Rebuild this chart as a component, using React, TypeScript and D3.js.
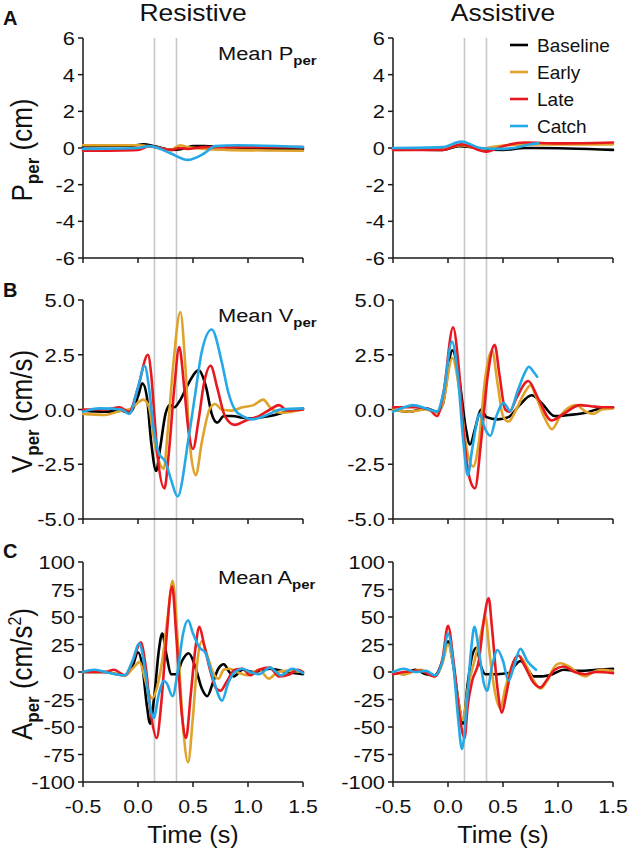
import React from 'react';
import * as d3 from 'd3';

type Pt = [number, number];

// ---------- categories ----------
const conditions = ['Baseline', 'Early', 'Late', 'Catch'];
const conditionColors = ['#000000', '#DFA22B', '#E8191E', '#25A9E6'];
const columnTitles = ['Resistive', 'Assistive'];
const timeTicks = [-0.5, 0, 0.5, 1.0, 1.5];
const markerTimes = [0.15, 0.35];
const pTicks = [6, 4, 2, 0, -2, -4, -6];
const vTicks = [5, 2.5, 0, -2.5, -5];
const aTicks = [100, 75, 50, 25, 0, -25, -50, -75, -100];

// ---------- A: position (cm) ----------
const resP_base: Pt[] = [[-0.5, 0.1], [-0.05, 0.12], [0.05, 0.2], [0.15, 0.1], [0.3, -0.1], [0.4, -0.05], [0.5, 0.1], [0.6, 0.1], [0.8, 0.05], [1.0, 0.0], [1.5, -0.05]];
const resP_early: Pt[] = [[-0.5, 0.15], [0.0, 0.15], [0.15, 0.05], [0.3, -0.1], [0.38, 0.15], [0.45, 0.05], [0.6, -0.05], [0.8, -0.1], [1.5, -0.15]];
const resP_late: Pt[] = [[-0.5, -0.15], [0.0, -0.1], [0.1, 0.1], [0.15, 0.05], [0.3, -0.1], [0.38, 0.0], [0.45, -0.05], [0.6, 0.05], [0.8, 0.05], [1.5, 0.05]];
const resP_catch: Pt[] = [[-0.5, -0.05], [0.0, 0.0], [0.1, 0.1], [0.15, 0.05], [0.3, -0.3], [0.45, -0.65], [0.6, -0.3], [0.7, 0.1], [0.9, 0.15], [1.5, 0.05]];

const assP_base: Pt[] = [[-0.5, -0.05], [-0.05, -0.1], [0.1, 0.1], [0.2, 0.05], [0.3, -0.05], [0.5, -0.1], [0.7, 0.0], [0.8, 0.0], [1.5, -0.1]];
const assP_early: Pt[] = [[-0.5, -0.1], [-0.05, -0.05], [0.12, 0.15], [0.3, -0.05], [0.4, 0.05], [0.7, 0.2], [1.0, 0.2], [1.5, 0.2]];
const assP_late: Pt[] = [[-0.5, -0.1], [-0.05, -0.1], [0.12, 0.2], [0.35, -0.2], [0.5, 0.1], [0.7, 0.3], [1.0, 0.25], [1.5, 0.3]];
const assP_catch: Pt[] = [[-0.5, 0.0], [-0.05, 0.05], [0.12, 0.35], [0.3, 0.0], [0.45, -0.05], [0.6, 0.0], [0.75, 0.2], [0.82, 0.25]];

// ---------- B: velocity (cm/s) ----------
const resV_base: Pt[] = [[-0.5, -0.05], [-0.3, -0.1], [-0.15, -0.05], [-0.08, -0.15], [0.0, 0.6], [0.04, 1.2], [0.08, 0.6], [0.12, -1.5], [0.165, -2.8], [0.2, -1.8], [0.25, -0.2], [0.29, 0.2], [0.33, 0.1], [0.38, 0.4], [0.46, 1.2], [0.55, 1.8], [0.62, 1.0], [0.67, -0.2], [0.72, -0.6], [0.78, -0.3], [0.85, -0.3], [1.0, -0.4], [1.2, -0.3], [1.35, -0.1], [1.5, 0.05]];
const resV_early: Pt[] = [[-0.5, -0.2], [-0.3, -0.25], [-0.15, -0.05], [-0.08, 0.0], [0.05, 0.45], [0.1, 0.1], [0.15, -1.5], [0.2, -2.5], [0.235, -2.7], [0.27, -1.0], [0.32, 2.0], [0.385, 4.45], [0.43, 2.0], [0.47, -1.5], [0.525, -3.0], [0.58, -1.5], [0.65, 0.0], [0.7, 0.25], [0.76, 0.0], [0.85, -0.05], [0.95, 0.1], [1.05, 0.2], [1.14, 0.45], [1.2, 0.1], [1.3, -0.15], [1.4, -0.1], [1.5, 0.0]];
const resV_late: Pt[] = [[-0.5, 0.0], [-0.3, 0.0], [-0.17, 0.1], [-0.08, -0.1], [0.0, 1.0], [0.09, 2.5], [0.12, 1.6], [0.145, 0.0], [0.18, -2.2], [0.24, -3.6], [0.28, -2.0], [0.33, 1.0], [0.375, 2.85], [0.42, 1.0], [0.46, -1.0], [0.5, -1.8], [0.55, -0.5], [0.6, 1.2], [0.66, 2.0], [0.72, 1.0], [0.79, -0.3], [0.88, -0.7], [0.98, -0.5], [1.1, -0.3], [1.2, 0.0], [1.28, 0.2], [1.36, -0.05], [1.5, 0.0]];
const resV_catch: Pt[] = [[-0.5, -0.1], [-0.35, 0.05], [-0.15, 0.0], [-0.08, -0.2], [0.0, 1.0], [0.06, 2.0], [0.1, 1.0], [0.14, -0.8], [0.19, -2.0], [0.25, -2.4], [0.3, -3.2], [0.36, -3.97], [0.46, -1.3], [0.52, 0.7], [0.58, 2.65], [0.67, 3.65], [0.76, 2.2], [0.82, 0.8], [0.88, 0.0], [0.95, -0.3], [1.04, -0.45], [1.15, -0.3], [1.3, 0.0], [1.5, 0.05]];

const assV_base: Pt[] = [[-0.5, 0.0], [-0.35, -0.1], [-0.2, 0.05], [-0.1, -0.1], [-0.05, 0.2], [0.04, 2.7], [0.1, 1.5], [0.16, -0.8], [0.2, -1.6], [0.25, -0.8], [0.3, 0.0], [0.35, -0.35], [0.45, -0.45], [0.55, -0.35], [0.65, 0.2], [0.76, 0.65], [0.85, 0.3], [0.97, -0.3], [1.1, -0.25], [1.25, -0.15], [1.35, 0.0], [1.5, 0.1]];
const assV_early: Pt[] = [[-0.5, 0.0], [-0.35, -0.1], [-0.2, 0.0], [-0.1, -0.15], [-0.05, 0.2], [0.04, 2.35], [0.1, 1.0], [0.17, -1.8], [0.23, -2.6], [0.28, -1.5], [0.34, 1.5], [0.4, 2.7], [0.45, 1.2], [0.5, -0.3], [0.55, -0.55], [0.62, 0.0], [0.7, 0.8], [0.75, 1.1], [0.8, 0.6], [0.88, -0.4], [0.945, -0.9], [1.02, -0.3], [1.1, 0.1], [1.17, 0.2], [1.25, -0.1], [1.32, -0.2], [1.4, 0.0], [1.5, 0.05]];
const assV_late: Pt[] = [[-0.5, 0.1], [-0.3, 0.1], [-0.17, 0.0], [-0.1, -0.3], [-0.04, 0.8], [0.046, 3.75], [0.1, 1.8], [0.15, -1.5], [0.2, -3.2], [0.245, -3.6], [0.3, -1.5], [0.36, 1.5], [0.424, 2.95], [0.47, 1.5], [0.52, 0.0], [0.56, -0.1], [0.62, 0.5], [0.73, 1.3], [0.82, 0.5], [0.94, -0.5], [1.05, -0.2], [1.2, 0.2], [1.3, 0.15], [1.4, 0.1], [1.5, 0.1]];
const assV_catch: Pt[] = [[-0.5, -0.1], [-0.4, 0.1], [-0.32, 0.2], [-0.2, 0.05], [-0.1, -0.1], [-0.04, 0.8], [0.036, 3.1], [0.09, 1.5], [0.14, -1.5], [0.18, -3.0], [0.22, -1.8], [0.29, -0.2], [0.33, -0.8], [0.385, -1.2], [0.44, -0.3], [0.506, 0.3], [0.565, -0.07], [0.63, 0.8], [0.7, 1.7], [0.735, 1.95], [0.78, 1.7], [0.81, 1.5]];

// ---------- C: acceleration (cm/s^2) ----------
const resA_base: Pt[] = [[-0.5, 0], [-0.3, 0], [-0.12, -3], [-0.05, 5], [0.0, 18], [0.04, 5], [0.08, -30], [0.11, -47], [0.15, -20], [0.19, 20], [0.22, 35], [0.26, 15], [0.3, -2], [0.35, -2], [0.4, 10], [0.46, 17], [0.52, 5], [0.58, -15], [0.63, -22], [0.68, -10], [0.73, 3], [0.78, 7], [0.83, 0], [0.87, -4], [0.95, 2], [1.05, 0], [1.2, 3], [1.35, 0], [1.5, -2]];
const resA_early: Pt[] = [[-0.5, 0], [-0.3, 0], [-0.12, -3], [-0.05, 3], [0.015, 9], [0.06, -5], [0.1, -20], [0.13, -24], [0.17, -15], [0.22, 10], [0.27, 50], [0.315, 83], [0.36, 30], [0.41, -50], [0.455, -82], [0.5, -40], [0.54, 10], [0.58, 28], [0.63, 15], [0.68, 0], [0.73, -6], [0.78, 2], [0.83, 3], [0.9, 0], [1.0, -3], [1.1, 2], [1.19, -6], [1.27, 0], [1.35, 1], [1.5, 0]];
const resA_late: Pt[] = [[-0.5, 0], [-0.3, 0], [-0.22, 2], [-0.12, -3], [-0.04, 12], [0.025, 27], [0.07, 5], [0.12, -40], [0.17, -60], [0.21, -30], [0.25, 20], [0.31, 78], [0.35, 30], [0.4, -40], [0.436, -60], [0.48, -20], [0.52, 20], [0.558, 41], [0.6, 25], [0.66, 0], [0.71, -15], [0.75, -17], [0.8, -10], [0.88, 2], [0.95, 3], [1.02, -3], [1.1, 2], [1.2, 4], [1.28, -4], [1.38, -2], [1.45, 2], [1.5, 0]];
const resA_catch: Pt[] = [[-0.5, 0], [-0.4, 2], [-0.3, 0], [-0.12, -3], [-0.05, 10], [0.01, 26], [0.06, 5], [0.1, -25], [0.142, -42], [0.19, -20], [0.233, -8], [0.26, -10], [0.315, -22], [0.36, 0], [0.41, 35], [0.455, 47], [0.5, 35], [0.56, 22], [0.61, 18], [0.68, -5], [0.764, -26], [0.82, -10], [0.88, 0], [0.95, 3], [1.02, 0], [1.1, -2], [1.2, 4], [1.3, -3], [1.4, 3], [1.5, -1]];

const assA_base: Pt[] = [[-0.5, 0], [-0.4, -2], [-0.3, 2], [-0.2, -2], [-0.12, -3], [-0.05, 10], [0.0, 28], [0.05, 5], [0.1, -30], [0.136, -47], [0.18, -10], [0.22, 15], [0.258, 22], [0.3, 5], [0.34, -2], [0.45, -2], [0.55, -1], [0.6, 5], [0.66, 10], [0.72, 3], [0.78, -4], [0.85, -4], [0.95, -2], [1.05, 2], [1.2, 1], [1.35, 2], [1.5, 3]];
const assA_early: Pt[] = [[-0.5, 0], [-0.4, -2], [-0.25, 2], [-0.12, -4], [-0.05, 8], [0.0, 25], [0.05, 5], [0.1, -30], [0.136, -44], [0.18, -15], [0.24, 10], [0.3, 35], [0.34, 50], [0.38, 15], [0.43, -20], [0.476, -33], [0.52, -15], [0.58, 5], [0.64, 15], [0.7, 8], [0.78, -8], [0.84, -15], [0.9, -8], [0.97, 5], [1.02, 8], [1.1, 5], [1.18, -1], [1.25, -4], [1.32, 0], [1.4, 2], [1.5, 1]];
const assA_late: Pt[] = [[-0.5, -2], [-0.4, 0], [-0.25, 1], [-0.12, -4], [-0.05, 12], [0.0, 42], [0.05, 10], [0.1, -35], [0.15, -60], [0.18, -30], [0.22, -8], [0.28, 10], [0.33, 50], [0.37, 67], [0.4, 40], [0.45, -15], [0.49, -37], [0.53, -20], [0.58, 5], [0.64, 15], [0.7, 5], [0.78, -10], [0.84, -14], [0.9, -7], [0.97, 2], [1.05, 5], [1.15, 0], [1.25, -2], [1.35, 0], [1.5, -1]];
const assA_catch: Pt[] = [[-0.5, 0], [-0.4, 3], [-0.3, 0], [-0.2, 1], [-0.12, -3], [-0.05, 10], [0.0, 35], [0.05, 5], [0.09, -40], [0.127, -70], [0.17, -30], [0.21, 20], [0.24, 41], [0.28, 20], [0.325, -10], [0.355, -17], [0.4, 5], [0.45, 20], [0.5, 10], [0.55, -8], [0.6, 5], [0.658, 21], [0.72, 10], [0.8, 2]];

// ---------- layout ----------
const W = 628;
const H = 852;
const FONT = 'Arial, "Liberation Sans", Helvetica, sans-serif';
const colX = [83, 393];
const plotW = 220;

interface RowCfg {
  top: number;
  bottom: number;
  domain: [number, number];
  ticks: number[];
  fmt: (v: number) => string;
  sym: string;
  unit: string;
  sup?: string;
  letter: string;
  letterY: number;
  series: Pt[][][]; // [col][cond]
}

const fmt1 = (v: number) => d3.format('.1f')(v).replace('\u2212', '-');

const rows: RowCfg[] = [
  { top: 38, bottom: 258, domain: [-6, 6], ticks: pTicks, fmt: (v) => String(v), sym: 'P', unit: ' (cm)', letter: 'A', letterY: 25,
    series: [[resP_base, resP_early, resP_late, resP_catch], [assP_base, assP_early, assP_late, assP_catch]] },
  { top: 300, bottom: 519, domain: [-5, 5], ticks: vTicks, fmt: fmt1, sym: 'V', unit: ' (cm/s)', letter: 'B', letterY: 297,
    series: [[resV_base, resV_early, resV_late, resV_catch], [assV_base, assV_early, assV_late, assV_catch]] },
  { top: 562, bottom: 782, domain: [-100, 100], ticks: aTicks, fmt: (v) => String(v), sym: 'A', unit: ' (cm/s', sup: '2', letter: 'C', letterY: 558,
    series: [[resA_base, resA_early, resA_late, resA_catch], [assA_base, assA_early, assA_late, assA_catch]] },
];

const axisColor = '#1a1a1a';
const textColor = '#111';

export default function App() {
  return (
    <svg width={W} height={H} viewBox={`0 0 ${W} ${H}`}
      style={{ position: 'absolute', left: 0, top: 0, background: '#fff' }}
      fontFamily={FONT}>
      <rect x={0} y={0} width={W} height={H} fill="#fff" />
      {columnTitles.map((t, ci) => (
        <text key={t} transform={`translate(${colX[ci] + plotW / 2},21) scale(1.15,1)`} fontSize={23} textAnchor="middle" fill={textColor}>{t}</text>
      ))}
      {colX.map((x0, ci) => {
        const x = d3.scaleLinear().domain([-0.5, 1.5]).range([x0, x0 + plotW]);
        return (
          <g key={ci}>
            {markerTimes.map((mt) => (
              <line key={mt} x1={x(mt)} x2={x(mt)} y1={rows[0].top} y2={rows[2].bottom}
                stroke="#c8c8c8" strokeWidth={1.6} />
            ))}
            {rows.map((r, ri) => {
              const y = d3.scaleLinear().domain(r.domain).range([r.bottom, r.top]);
              const line = d3.line<Pt>().x((d) => x(d[0])).y((d) => y(d[1])).curve(d3.curveMonotoneX);
              return (
                <g key={ri}>
                  {/* y axis */}
                  <line x1={x0} x2={x0} y1={r.top} y2={r.bottom} stroke={axisColor} strokeWidth={1.5} />
                  {r.ticks.map((tv) => (
                    <g key={tv}>
                      <line x1={x0 - 5} x2={x0} y1={y(tv)} y2={y(tv)} stroke={axisColor} strokeWidth={1.5} />
                      <text transform={`translate(${x0 - 8},${y(tv) + 7}) scale(1.15,1)`} fontSize={19} textAnchor="end" fill={textColor}>{r.fmt(tv)}</text>
                    </g>
                  ))}
                  {/* x axis */}
                  <line x1={x0} x2={x0 + plotW} y1={r.bottom} y2={r.bottom} stroke={axisColor} strokeWidth={1.5} />
                  {timeTicks.map((tv) => (
                    <line key={tv} x1={x(tv)} x2={x(tv)} y1={r.bottom} y2={r.bottom + 5} stroke={axisColor} strokeWidth={1.5} />
                  ))}
                  {ri === 2 && timeTicks.map((tv) => (
                    <text key={'l' + tv} transform={`translate(${x(tv)},813) scale(1.12,1)`} fontSize={19} textAnchor="middle" fill={textColor}>{fmt1(tv)}</text>
                  ))}
                  {/* series */}
                  {r.series[ci].map((s, si) => (
                    <path key={si} d={line(s) || ''} fill="none" stroke={conditionColors[si]} strokeWidth={2.6}
                      strokeLinejoin="round" strokeLinecap="round" />
                  ))}
                  {ci === 0 && (
                    <text transform={`translate(218,${r.top + 22}) scale(1.15,1)`} fontSize={19} fill={textColor}>
                      {'Mean ' + r.sym}
                      <tspan fontSize={13} fontWeight="bold" dy={5}>per</tspan>
                    </text>
                  )}
                  {ci === 0 && (
                    <text transform={`translate(32,${(r.top + r.bottom) / 2 + 2}) scale(1.12,1) rotate(-90)`} fontSize={26} textAnchor="middle" fill={textColor}>
                      {r.sym}
                      <tspan fontSize={17} fontWeight="bold" dy={6}>per</tspan>
                      <tspan dy={-6}>{r.unit}</tspan>
                      {r.sup && <tspan fontSize={16} dy={-10}>{r.sup}</tspan>}
                      {r.sup && <tspan dy={10}>)</tspan>}
                    </text>
                  )}
                </g>
              );
            })}
          </g>
        );
      })}
      {rows.map((r) => (
        <text key={r.letter} x={3} y={r.letterY} fontSize={20} fontWeight="bold" fill={textColor}>{r.letter}</text>
      ))}
      {/* legend */}
      {conditions.map((c, i) => (
        <g key={c}>
          <line x1={510} x2={528} y1={45 + i * 27} y2={45 + i * 27} stroke={conditionColors[i]} strokeWidth={2.6} />
          <text x={537} y={45 + i * 27 + 7} fontSize={19} fill={textColor}>{c}</text>
        </g>
      ))}
      {columnTitles.map((t, ci) => (
        <text key={'time' + t} transform={`translate(${colX[ci] + plotW / 2},843) scale(1.05,1)`} fontSize={24} textAnchor="middle" fill={textColor}>Time (s)</text>
      ))}
    </svg>
  );
}
